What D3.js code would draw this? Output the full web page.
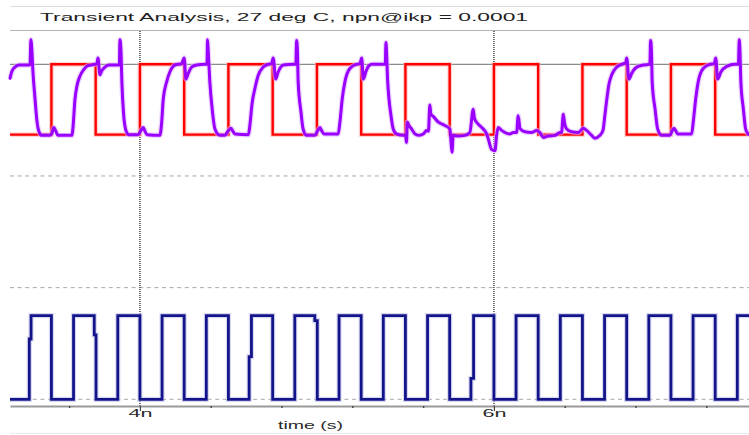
<!DOCTYPE html>
<html>
<head>
<meta charset="utf-8">
<script src="https://cdn.jsdelivr.net/npm/d3@7"></script>
<style>
  html, body { margin: 0; padding: 0; background: #fff; }
  svg { display: block; }
  text { font-family: "Liberation Sans", Arial, Helvetica, sans-serif; }
</style>
</head>
<body>
<svg id="chart" width="749" height="435"></svg>
<script>
// ---- labels -------------------------------------------------------------
const titleText = "Transient Analysis, 27 deg C, npn@ikp = 0.0001";
const xLabel = "time (s)";

// ---- time axis (ns) -----------------------------------------------------
const timeDomain = [3.266, 7.441];
const majorTicks = [4, 6];
const minorTicks = [3.6, 4.4, 4.8, 5.2, 5.6, 6.4, 6.8, 7.2];
const gridRows = [0, 1, 2, 3];

// ---- clock (bottom trace), step-after points [t ns, level] --------------
const clockTrace = [
  [3.266, 0], [3.375, 0.72], [3.385, 1], [3.5, 0], [3.625, 1], [3.742, 0.77], [3.752, 0],
  [3.875, 1], [4.0, 0], [4.125, 1], [4.25, 0], [4.375, 1], [4.5, 0],
  [4.617, 0.51], [4.630, 1], [4.75, 0], [4.875, 1], [4.988, 0.94], [5.002, 0],
  [5.125, 1], [5.25, 0], [5.375, 1], [5.5, 0], [5.625, 1], [5.75, 0],
  [5.870, 0.25], [5.885, 1], [6.0, 0], [6.125, 1], [6.25, 0], [6.375, 1], [6.5, 0],
  [6.625, 1], [6.75, 0], [6.875, 1], [7.0, 0], [7.125, 1], [7.25, 0], [7.375, 1], [7.441, 1]
];

// ---- data input (red), step-after points [t ns, level] -------------------
const inputTrace = [
  [3.266, 0], [3.5, 1], [3.75, 0], [4.0, 1], [4.25, 0], [4.5, 1], [4.75, 0],
  [5.0, 1], [5.25, 0], [5.5, 1], [5.75, 0], [6.0, 1], [6.25, 0], [6.5, 1],
  [6.75, 0], [7.0, 1], [7.25, 0], [7.441, 0]
];

// ---- output node (purple) [t ns, level] ---------------------------------
const outputTrace = [
  [3.266, 0.80], [3.277, 0.90], [3.294, 0.96], [3.316, 0.99], [3.373, 0.99],
  [3.379, 0.99], [3.384, 1.35], [3.390, 1.18], [3.395, 0.92], [3.407, 0.52], [3.418, 0.20],
  [3.429, 0.05], [3.446, -0.01], [3.492, -0.01], [3.503, 0.02], [3.514, 0.10], [3.525, 0.05],
  [3.537, -0.01], [3.616, -0.01], [3.621, 0.08], [3.633, 0.50], [3.644, 0.69], [3.661, 0.83],
  [3.684, 0.93], [3.706, 0.98], [3.746, 1.00], [3.757, 1.01], [3.763, 1.09], [3.774, 0.85],
  [3.785, 0.91], [3.802, 0.96], [3.825, 0.99], [3.876, 0.99],
  [3.884, 0.99], [3.887, 1.35], [3.893, 1.18], [3.898, 0.75], [3.907, 0.32], [3.921, 0.06],
  [3.938, 0.00], [3.989, 0.00], [4.006, 0.06], [4.019, 0.10], [4.028, 0.05], [4.040, 0.00],
  [4.113, -0.01], [4.123, 0.18], [4.132, 0.51], [4.151, 0.75], [4.169, 0.89], [4.198, 0.99],
  [4.236, 1.01], [4.250, 1.09], [4.260, 0.79], [4.273, 0.87], [4.292, 0.96], [4.320, 0.99],
  [4.367, 1.00], [4.379, 1.00],
  [4.382, 1.35], [4.386, 1.18], [4.395, 0.75], [4.408, 0.37], [4.424, 0.08], [4.452, -0.01],
  [4.480, -0.01], [4.497, 0.05], [4.514, 0.09], [4.525, 0.05], [4.537, 0.01], [4.613, 0.00],
  [4.621, 0.13], [4.634, 0.45], [4.650, 0.66], [4.668, 0.84], [4.697, 0.96], [4.725, 1.00],
  [4.744, 1.01], [4.753, 1.09], [4.767, 0.79], [4.781, 0.89], [4.810, 0.99], [4.866, 1.00],
  [4.881, 1.00],
  [4.885, 1.34], [4.890, 1.18], [4.894, 0.75], [4.910, 0.32], [4.922, 0.08], [4.942, -0.01],
  [4.989, -0.01], [5.003, 0.05], [5.017, 0.10], [5.028, 0.05], [5.041, 0.01], [5.120, 0.01],
  [5.130, 0.18], [5.143, 0.51], [5.158, 0.75], [5.186, 0.94], [5.224, 1.00], [5.243, 1.01],
  [5.253, 1.09], [5.262, 0.79], [5.277, 0.90], [5.294, 0.98], [5.311, 1.00], [5.386, 1.00],
  [5.390, 1.31], [5.394, 1.13], [5.399, 0.79], [5.407, 0.51], [5.418, 0.28], [5.431, 0.08],
  [5.450, 0.01], [5.488, -0.01], [5.500, 0.00], [5.506, -0.11], [5.511, 0.18], [5.520, 0.13],
  [5.535, 0.08], [5.554, 0.01], [5.572, -0.01], [5.601, 0.01], [5.620, 0.06], [5.630, 0.05],
  [5.638, 0.42], [5.644, 0.29], [5.657, 0.26], [5.685, 0.18], [5.723, 0.13], [5.751, 0.08],
  [5.757, -0.08], [5.763, -0.25], [5.770, -0.01], [5.798, -0.02], [5.836, -0.01], [5.864, 0.03],
  [5.883, 0.36], [5.890, 0.23], [5.911, 0.15], [5.940, 0.08], [5.959, 0.01], [5.968, -0.06],
  [5.987, -0.21], [6.006, -0.23], [6.015, -0.01], [6.024, 0.10], [6.044, 0.06], [6.062, 0.03],
  [6.090, 0.01], [6.109, 0.03], [6.128, 0.03], [6.137, 0.27], [6.147, 0.09], [6.175, 0.04],
  [6.213, 0.03], [6.241, 0.06], [6.260, 0.03], [6.279, -0.04], [6.307, -0.02], [6.345, -0.01],
  [6.373, 0.03], [6.382, 0.03], [6.392, 0.29], [6.398, 0.18], [6.411, 0.08], [6.439, 0.04],
  [6.476, 0.03], [6.505, 0.09], [6.524, 0.06], [6.552, -0.01], [6.571, -0.05], [6.599, -0.01],
  [6.616, 0.06], [6.627, 0.28], [6.637, 0.49], [6.650, 0.72], [6.667, 0.86], [6.693, 0.96],
  [6.722, 1.00], [6.744, 1.02], [6.750, 1.09], [6.763, 0.79], [6.778, 0.87], [6.806, 0.96],
  [6.844, 0.99], [6.881, 1.00],
  [6.885, 1.34], [6.890, 1.18], [6.894, 0.75], [6.910, 0.37], [6.925, 0.08], [6.948, -0.01],
  [6.994, -0.01], [7.006, 0.05], [7.017, 0.09], [7.028, 0.05], [7.038, 0.01], [7.117, 0.01],
  [7.126, 0.18], [7.140, 0.51], [7.154, 0.75], [7.182, 0.94], [7.220, 1.00], [7.245, 1.01],
  [7.253, 1.09], [7.264, 0.79], [7.282, 0.89], [7.315, 0.97], [7.362, 1.00], [7.381, 1.00],
  [7.386, 1.35], [7.390, 1.18], [7.395, 0.75], [7.409, 0.37], [7.422, 0.08], [7.437, 0.01],
  [7.441, 0.00]
];

// ---- layout -------------------------------------------------------------
const W = 749, H = 435;
const plotLeft = 10, plotRight = 749;
const axisY = 406;

const svg = d3.select("#chart");

const x = d3.scaleLinear().domain(timeDomain).range([plotLeft, plotRight]);
// grid rows span the whole waveform stack
const yRow = d3.scaleLinear().domain([0, 3]).range([399.3, 64.3]);
// upper panel (input + output), lower panel (clock)
const yTop = d3.scaleLinear().domain([0, 1]).range([yRow(2.37), yRow(3)]);
const yBot = d3.scaleLinear().domain([0, 1]).range([yRow(0), yRow(0.75)]);

// ---- title bar ----------------------------------------------------------
svg.append("line").attr("x1", plotLeft).attr("x2", plotRight).attr("y1", 6.5).attr("y2", 6.5)
  .attr("stroke", "#dcdcdc").attr("stroke-width", 1);
svg.append("line").attr("x1", plotLeft).attr("x2", plotRight).attr("y1", 30.5).attr("y2", 30.5)
  .attr("stroke", "#b4b4b4").attr("stroke-width", 1);
svg.append("text")
  .attr("x", 40).attr("y", 21)
  .attr("font-size", 11.7).attr("fill", "#1e1e1e")
  .attr("textLength", 488).attr("lengthAdjust", "spacingAndGlyphs")
  .text(titleText);

// ---- grid ---------------------------------------------------------------
const grid = svg.append("g");
grid.selectAll("line.row")
  .data(gridRows)
  .join("line")
  .attr("class", "row")
  .attr("x1", plotLeft).attr("x2", plotRight)
  .attr("y1", d => yRow(d)).attr("y2", d => yRow(d))
  .attr("stroke", d => d === 3 ? "#6e6e6e" : "#a8a8a8")
  .attr("stroke-width", 1)
  .attr("stroke-dasharray", d => d === 3 ? null : "4,3.6");

grid.selectAll("line.col")
  .data(majorTicks)
  .join("line")
  .attr("class", "col")
  .attr("x1", d => x(d)).attr("x2", d => x(d))
  .attr("y1", 31).attr("y2", axisY)
  .attr("stroke", "#3a3a3a")
  .attr("stroke-width", 1.4)
  .attr("stroke-dasharray", "1,1");

// ---- traces -------------------------------------------------------------
const stepTop = d3.line().x(d => x(d[0])).y(d => yTop(d[1])).curve(d3.curveStepAfter);
const stepBot = d3.line().x(d => x(d[0])).y(d => yBot(d[1])).curve(d3.curveStepAfter);
const smoothTop = d3.line().x(d => x(d[0])).y(d => yTop(d[1])).curve(d3.curveMonotoneX);

// each trace: soft wide underlay, then the core stroke
function trace(data, gen, core, soft, width, join) {
  svg.append("path").datum(data)
    .attr("d", gen).attr("fill", "none")
    .attr("stroke", soft).attr("stroke-width", width + 2.4)
    .attr("stroke-linejoin", join).attr("stroke-opacity", 0.55);
  svg.append("path").datum(data)
    .attr("d", gen).attr("fill", "none")
    .attr("stroke", core).attr("stroke-width", width)
    .attr("stroke-linejoin", join).attr("stroke-linecap", join === "round" ? "round" : "butt");
}

trace(clockTrace, stepBot, "#14148a", "#b8b8e6", 2.8, "miter");
trace(inputTrace, stepTop, "#ff0000", "#ffb0b0", 2.4, "miter");
trace(outputTrace, smoothTop, "#9a00ff", "#dcb0ff", 3, "round");

// ---- time axis ----------------------------------------------------------
const minorAxis = d3.axisBottom(x).tickValues(minorTicks).tickSize(2).tickSizeOuter(0).tickFormat("");
const gMinor = svg.append("g").attr("transform", `translate(0,${axisY})`).call(minorAxis);
gMinor.select(".domain").attr("stroke", "#9a9a9a").attr("stroke-width", 2);
gMinor.selectAll(".tick line").attr("stroke", "#444").attr("stroke-width", 1.4);

const majorAxis = d3.axisBottom(x).tickValues(majorTicks).tickSize(5).tickSizeOuter(0)
  .tickFormat(d => d + "n");
const gMajor = svg.append("g").attr("transform", `translate(0,${axisY})`).call(majorAxis);
gMajor.select(".domain").remove();
gMajor.selectAll(".tick line").attr("stroke", "#444").attr("stroke-width", 1.2);
gMajor.selectAll(".tick text")
  .attr("y", 11).attr("dy", 0)
  .attr("font-size", 10.5).attr("fill", "#2a2a2a")
  .attr("font-family", "Liberation Sans, Arial, sans-serif")
  .attr("textLength", 24).attr("lengthAdjust", "spacingAndGlyphs");

svg.append("text")
  .attr("x", 310.5).attr("y", 429.3)
  .attr("text-anchor", "middle")
  .attr("font-size", 11).attr("fill", "#2a2a2a")
  .attr("textLength", 65).attr("lengthAdjust", "spacingAndGlyphs")
  .text(xLabel);

svg.append("line").attr("x1", plotLeft).attr("x2", plotRight).attr("y1", 433.5).attr("y2", 433.5)
  .attr("stroke", "#ececec").attr("stroke-width", 1);
</script>
</body>
</html>
